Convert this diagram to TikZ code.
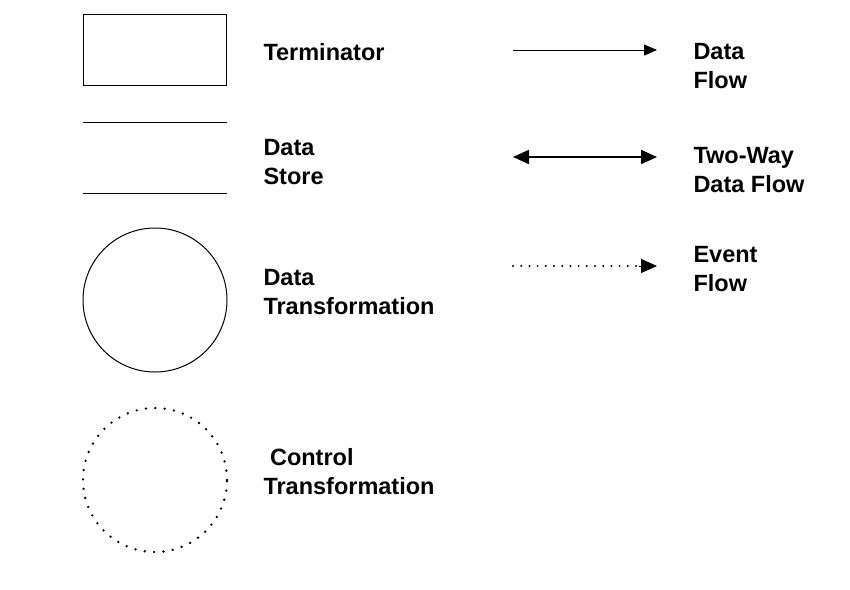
\documentclass[tikz,border=0pt]{standalone}
\usepackage{fontspec}
\setmainfont{Liberation Sans}
\usetikzlibrary{arrows.meta, positioning}

\tikzset{
   legendtext/.style={anchor=base west, align=left, inner sep=0pt,
      font=\fontsize{23.5}{29}\selectfont\bfseries},
   flowtip/.style={-{Triangle[length=13pt, width=11pt]}},
   bigtip/.style={-{Triangle[length=16pt, width=14pt]}},
   twotip/.style={{Triangle[length=16pt, width=14pt]}-{Triangle[length=16pt, width=14pt]}},
}

\begin{document}
\begin{tikzpicture}[x=1pt, y=-1pt, line width=1pt]
            \useasboundingbox (0,0) rectangle (850,589);
            % Terminator
            \node[draw, minimum width=143pt, minimum height=71pt] (term) at (155,50) {};
            \node[legendtext] (termlbl) at (263,60) {Terminator};
            % Data store: two horizontal lines
            \draw (83,122) -- (227,122);
            \draw (83,193) -- (227,193);
            % (base anchor of a two-line label sits on its last line)
            \node[legendtext] (storelbl) at (263,184) {Data\\Store};
            % Data transformation (solid circle)
            \node[draw, circle, minimum size=144pt, inner sep=0pt] (dtrans) at (155,300) {};
            \node[legendtext] (dtranslbl) at (263,314) {Data\\Transformation};
            % Control transformation (dotted circle)
            \node[draw, circle, minimum size=144pt, inner sep=0pt, line width=2.6pt,
               line cap=round, dash pattern=on 0pt off 9.4pt] (ctrans) at (155,480) {};
            \node[legendtext] (ctranslbl) at (263,494) {\ Control\\Transformation};
            % Data flow
            \coordinate (dfA) at (513,50);
            \coordinate (dfB) at (657,50);
            \draw[flowtip] (dfA) -- (dfB);
            \node[legendtext] (dflbl) at (693,88) {Data\\Flow};
            % Two-way data flow
            \coordinate (twA) at (513,157);
            \coordinate (twB) at (657,157);
            \draw[twotip, line width=2pt] (twA) -- (twB);
            \node[legendtext] (twlbl) at (693,192) {Two-Way\\Data Flow};
            % Event flow (dotted)
            \coordinate (evA) at (513,266);
            \coordinate (evB) at (657,266);
            \draw[line width=2.2pt, line cap=round, dash pattern=on 0pt off 8.2pt] (evA) -- (637,266);
            \draw[bigtip, line width=1pt] (639,266) -- (evB);
            \node[legendtext] (evlbl) at (693,291) {Event\\Flow};
\end{tikzpicture}
\end{document}
